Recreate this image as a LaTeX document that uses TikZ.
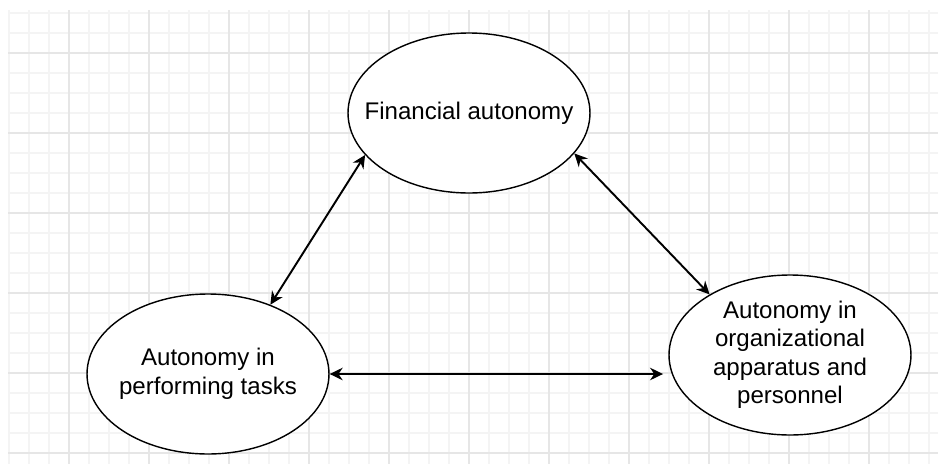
\documentclass[tikz,border=0pt]{standalone}
\usepackage{fontspec}
\setmainfont{Liberation Sans}
\usetikzlibrary{arrows.meta,shapes.geometric}
\definecolor{gridminor}{HTML}{F4F4F4}
\definecolor{gridmajor}{HTML}{E6E6E6}

\begin{document}
\begin{tikzpicture}[x=0.02cm,y=-0.02cm,
    bubble/.style={ellipse,draw,line width=0.8pt,fill=white,inner sep=0pt,
      minimum width=4.84cm,minimum height=3.2cm},
    caption/.style={align=center,inner sep=0pt,font=\fontsize{13.7}{16.2}\selectfont},
    link/.style={{Stealth[length=2.6mm,width=2.5mm]}-{Stealth[length=2.6mm,width=2.5mm]},line width=1.1pt}]
    \useasboundingbox (0,0) rectangle (938,464);

    % background grid
    \foreach \x in {9,29,...,929} \draw[gridminor,line width=0.6pt] (\x,10) -- (\x,464);
    \foreach \y in {13,33,...,453} \draw[gridminor,line width=0.6pt] (8,\y) -- (938,\y);
    \foreach \x in {69,149,...,869} \draw[gridmajor,line width=0.6pt] (\x,10) -- (\x,464);
    \foreach \y in {53,133,...,453} \draw[gridmajor,line width=0.6pt] (8,\y) -- (938,\y);

    \node[bubble,label={[caption]center:Financial autonomy}] (fin) at (469,113) {};
    \node[bubble,label={[caption]center:Autonomy in\\performing tasks}] (task) at (208,374) {};
    \node[bubble,label={[caption]center:Autonomy in\\organizational\\apparatus and\\personnel}] (org) at (790,355) {};

    \draw[link] (fin.202) -- (task.48);
    \draw[link] (fin.339) -- (org.143);
    \draw[link,shorten >=3pt] (task.east) -- (task.east -| org.west);
\end{tikzpicture}
\end{document}
